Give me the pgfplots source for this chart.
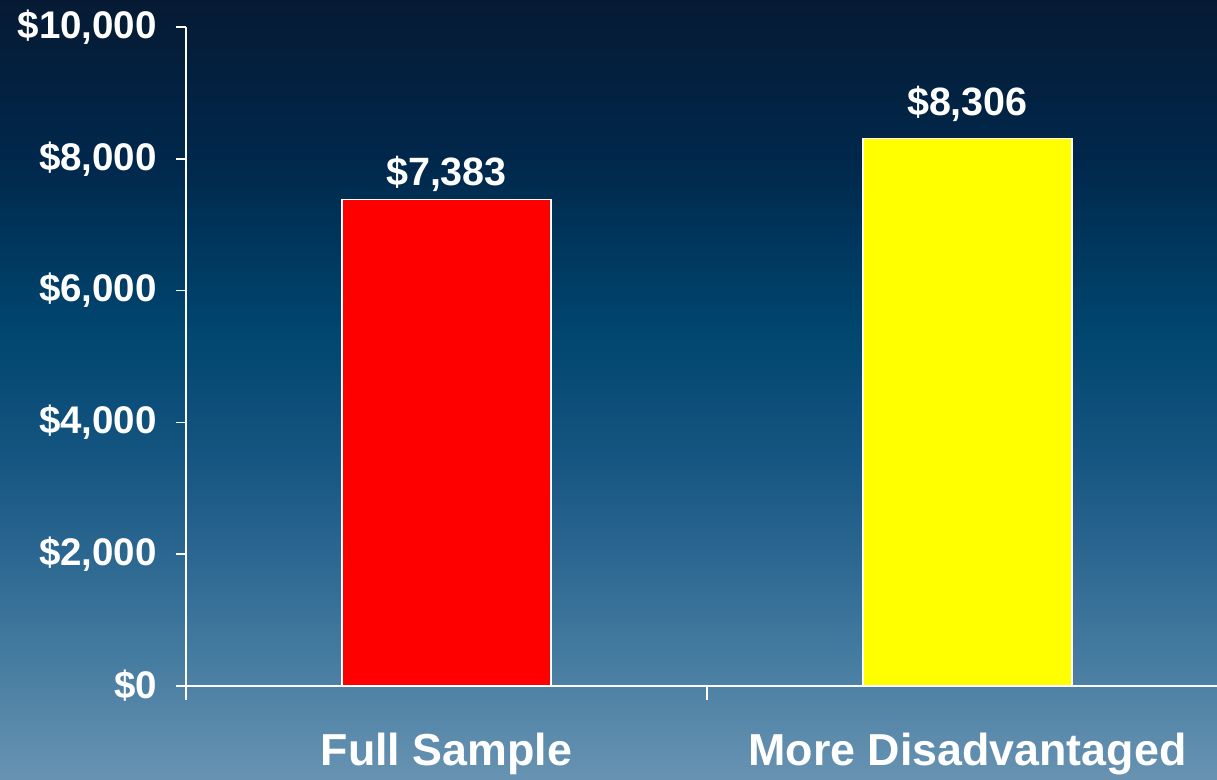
\documentclass[border=0pt]{standalone}
\usepackage{pgfplots}
\pgfplotsset{compat=1.18}
\usepackage{fontspec}
\setmainfont{Liberation Sans}
\definecolor{c0}{HTML}{6893B2}
\definecolor{c1}{HTML}{437A9F}
\definecolor{c2}{HTML}{2A6690}
\definecolor{c3}{HTML}{145480}
\definecolor{c4}{HTML}{00466F}
\definecolor{c5}{HTML}{00284C}
\definecolor{c6}{HTML}{061A33}
\definecolor{yel}{RGB}{255,255,0}
\definecolor{rd}{RGB}{255,0,0}
\pgfdeclareverticalshading{bg}{100bp}{color(0bp)=(c0); color(25bp)=(c0); color(33.3bp)=(c1); color(39.7bp)=(c2); color(46.1bp)=(c3); color(53.9bp)=(c4); color(64.4bp)=(c5); color(75bp)=(c6); color(100bp)=(c6)}
\begin{document}
\begin{tikzpicture}
\shade[shading=bg] (-186pt,-93pt) rectangle (1031pt,686pt);
\begin{axis}[
  at={(0pt,0pt)}, anchor=south west,
  scale only axis, width=1031pt, height=659pt,
  xmin=-0.5, xmax=1.479, ymin=0, ymax=10000,
  axis x line*=bottom, axis y line*=left,
  axis line style={white, line width=1.5pt},
  clip=false,
  ybar, bar width=209pt,
  tick align=outside,
  xtick={-0.5,0.5}, xticklabels={,},
  x tick style={draw=white, line width=1.5pt, /pgfplots/major tick length=14pt},
  extra x ticks={0,1}, extra x tick labels={Full Sample, More Disadvantaged},
  extra x tick style={tick style={draw opacity=0},
    xticklabel style={text=white, font=\fontsize{44.8}{46}\selectfont\bfseries, anchor=base, inner sep=0pt, yshift=-75pt}},
  ytick={0,2000,4000,6000,8000,10000},
  scaled y ticks=false,
  y tick style={draw=white, line width=1.5pt, /pgfplots/major tick length=10pt},
  yticklabel={\$\pgfmathprintnumber{\tick}},
  yticklabel style={text=white, font=\fontsize{38.5}{40}\selectfont\bfseries, inner sep=0pt, xshift=-24.7pt},
  nodes near coords={\$\pgfmathprintnumber{\pgfplotspointmeta}},
  nodes near coords style={text=white, font=\fontsize{39.5}{41}\selectfont\bfseries, inner sep=0pt, anchor=base},
  /pgf/number format/fixed, /pgf/number format/precision=0,
  /pgf/number format/1000 sep={,}, /pgf/number format/assume math mode=true,
]
\addplot[fill=rd, draw=white, line width=1.2pt, bar shift=0pt, nodes near coords style={yshift=14pt}] coordinates {(0,7383)};
\addplot[fill=yel, draw=white, line width=1.2pt, bar shift=0pt, nodes near coords style={yshift=23pt}] coordinates {(1,8306)};
\end{axis}
\pgfresetboundingbox
\useasboundingbox (-186pt,-93pt) rectangle (1031pt,686pt);
\end{tikzpicture}
\end{document}
